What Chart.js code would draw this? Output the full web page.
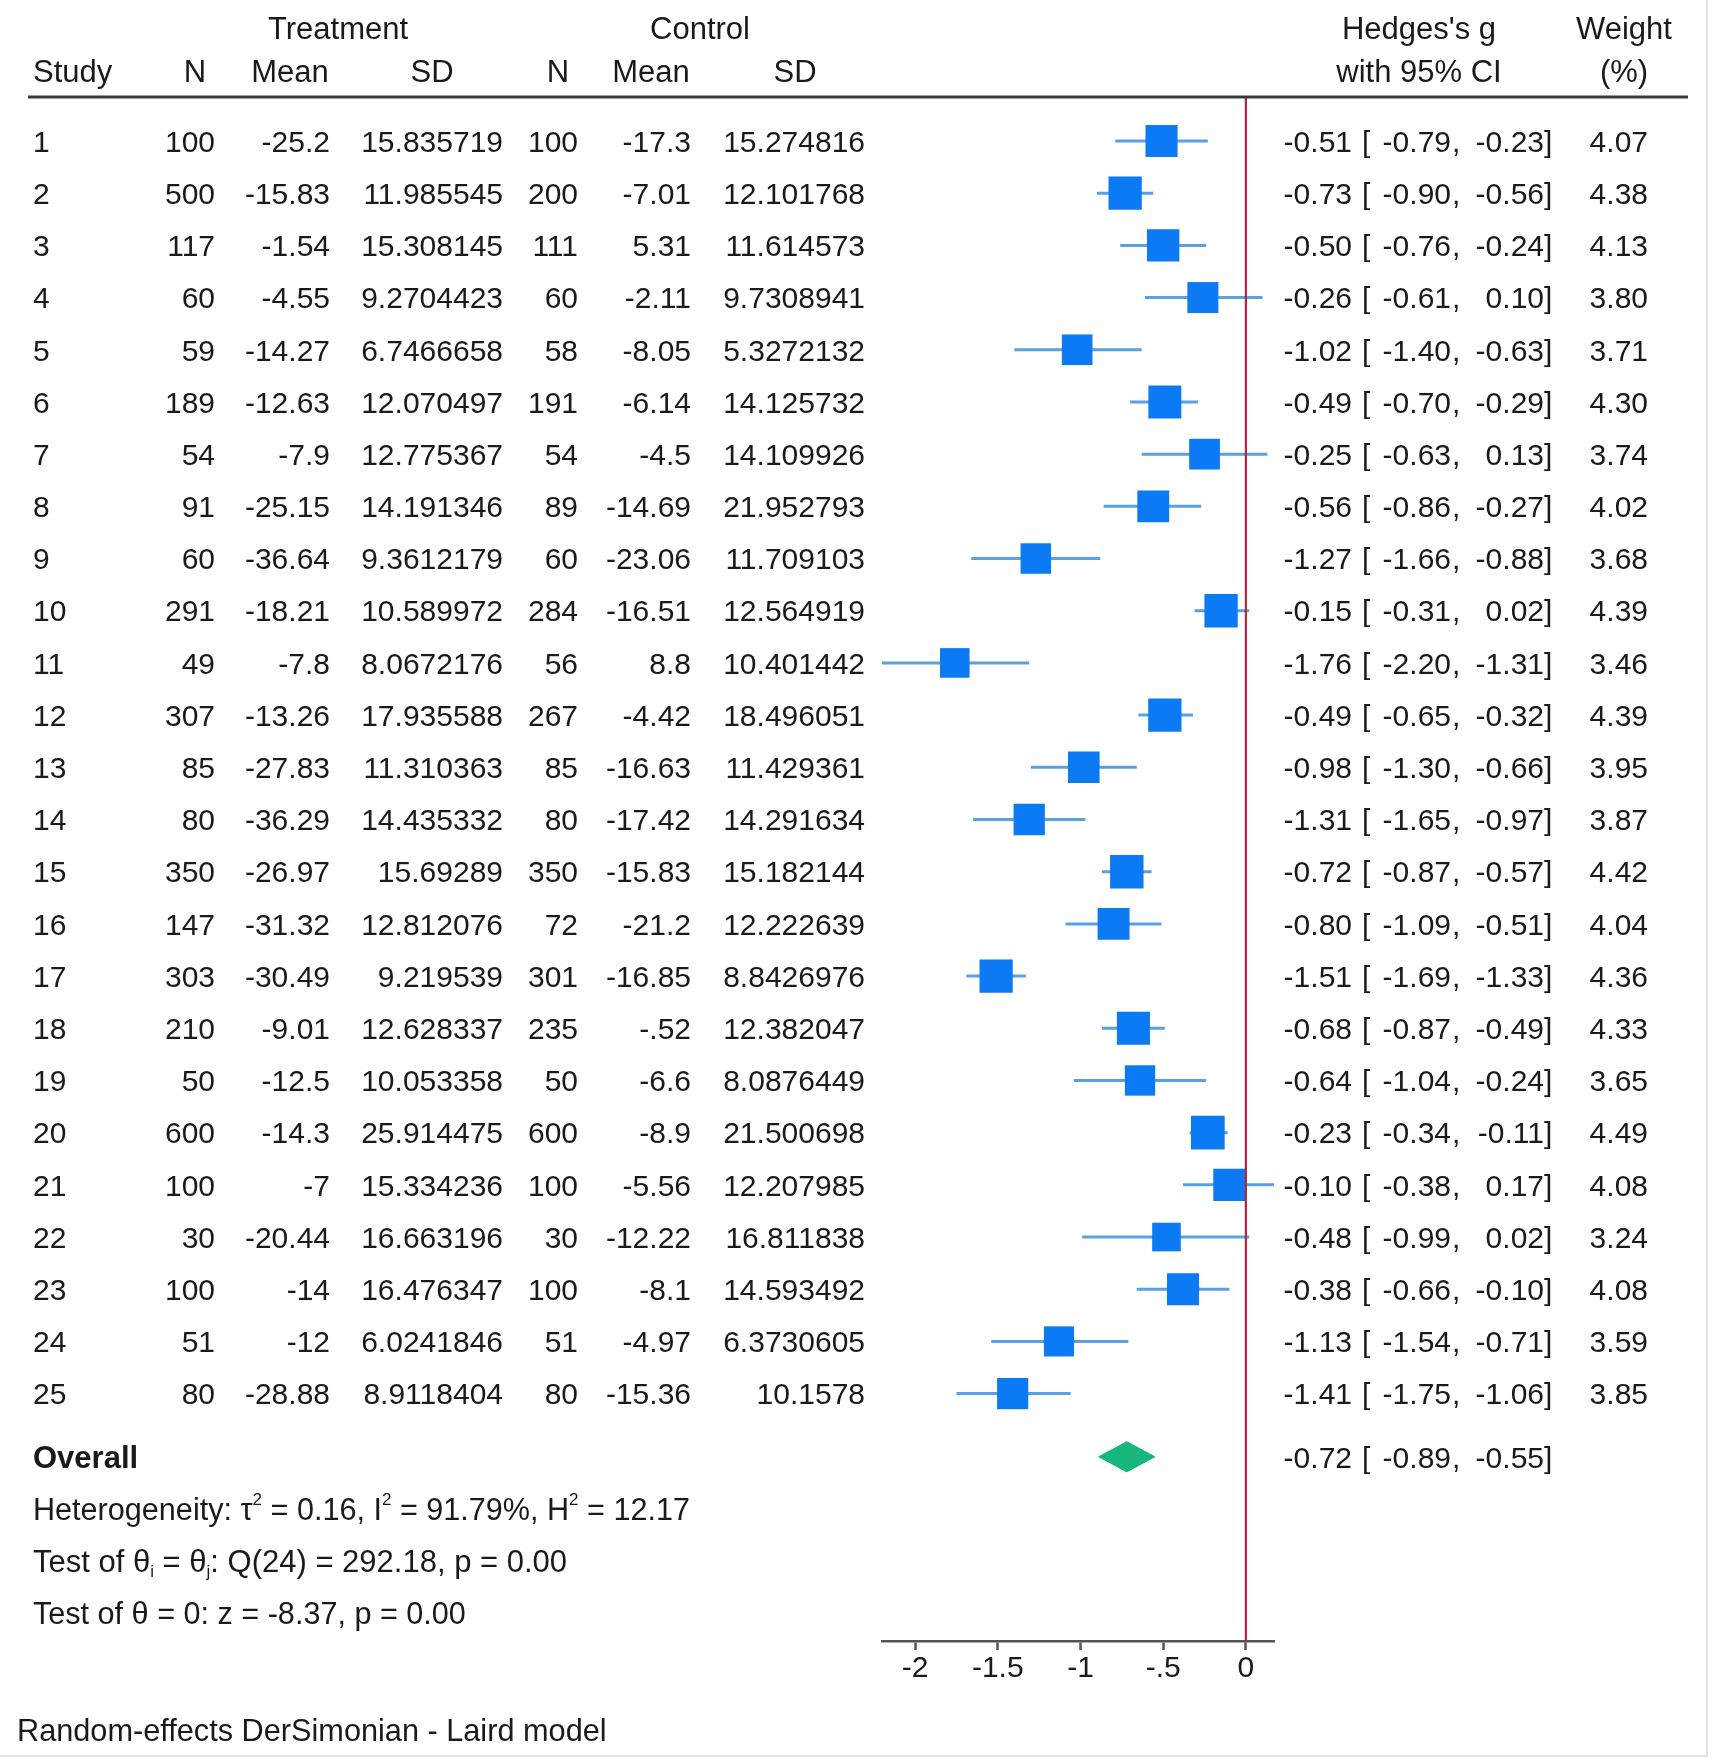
<!DOCTYPE html>
<html>
<head>
<meta charset="utf-8">
<script src="https://cdn.jsdelivr.net/npm/chart.js@4.4.1/dist/chart.umd.min.js"></script>
<style>
html,body{margin:0;padding:0;background:#fff;}
#wrap{width:1713px;height:1763px;position:relative;overflow:hidden;}
canvas{display:block;}
</style>
</head>
<body>
<div id="wrap"><canvas id="c" width="1713" height="1763"></canvas></div>
<script>
// ---------------- data ----------------
const studies = ['1','2','3','4','5','6','7','8','9','10','11','12','13','14','15','16','17','18','19','20','21','22','23','24','25'];
const treatN    = [100,500,117,60,59,189,54,91,60,291,49,307,85,80,350,147,303,210,50,600,100,30,100,51,80];
const treatMean = [-25.2,-15.83,-1.54,-4.55,-14.27,-12.63,-7.9,-25.15,-36.64,-18.21,-7.8,-13.26,-27.83,-36.29,-26.97,-31.32,-30.49,-9.01,-12.5,-14.3,-7,-20.44,-14,-12,-28.88];
const treatSD   = [15.835719,11.985545,15.308145,9.2704423,6.7466658,12.070497,12.775367,14.191346,9.3612179,10.589972,8.0672176,17.935588,11.310363,14.435332,15.69289,12.812076,9.219539,12.628337,10.053358,25.914475,15.334236,16.663196,16.476347,6.0241846,8.9118404];
const ctrlN     = [100,200,111,60,58,191,54,89,60,284,56,267,85,80,350,72,301,235,50,600,100,30,100,51,80];
const ctrlMean  = [-17.3,-7.01,5.31,-2.11,-8.05,-6.14,-4.5,-14.69,-23.06,-16.51,8.8,-4.42,-16.63,-17.42,-15.83,-21.2,-16.85,-0.52,-6.6,-8.9,-5.56,-12.22,-8.1,-4.97,-15.36];
const ctrlSD    = [15.274816,12.101768,11.614573,9.7308941,5.3272132,14.125732,14.109926,21.952793,11.709103,12.564919,10.401442,18.496051,11.429361,14.291634,15.182144,12.222639,8.8426976,12.382047,8.0876449,21.500698,12.207985,16.811838,14.593492,6.3730605,10.1578];
const hedgesG   = [-0.51,-0.73,-0.50,-0.26,-1.02,-0.49,-0.25,-0.56,-1.27,-0.15,-1.76,-0.49,-0.98,-1.31,-0.72,-0.80,-1.51,-0.68,-0.64,-0.23,-0.10,-0.48,-0.38,-1.13,-1.41];
const ciLow     = [-0.79,-0.90,-0.76,-0.61,-1.40,-0.70,-0.63,-0.86,-1.66,-0.31,-2.20,-0.65,-1.30,-1.65,-0.87,-1.09,-1.69,-0.87,-1.04,-0.34,-0.38,-0.99,-0.66,-1.54,-1.75];
const ciHigh    = [-0.23,-0.56,-0.24,0.10,-0.63,-0.29,0.13,-0.27,-0.88,0.02,-1.31,-0.32,-0.66,-0.97,-0.57,-0.51,-1.33,-0.49,-0.24,-0.11,0.17,0.02,-0.10,-0.71,-1.06];
const weightPct = [4.07,4.38,4.13,3.80,3.71,4.30,3.74,4.02,3.68,4.39,3.46,4.39,3.95,3.87,4.42,4.04,4.36,4.33,3.65,4.49,4.08,3.24,4.08,3.59,3.85];
const overallG  = [-0.72];
const overallCI = [-0.89, -0.55];
const xTickValues = [-2, -1.5, -1, -0.5, 0];
const xTickLabels = ['-2', '-1.5', '-1', '-.5', '0'];
const headerTop = ['Treatment', 'Control', "Hedges's g", 'Weight'];
const headerBottom = ['Study', 'N', 'Mean', 'SD', 'N', 'Mean', 'SD', 'with 95% CI', '(%)'];
const footnote = 'Random-effects DerSimonian - Laird model';

// ---------------- layout constants ----------------
const FONT = '"Liberation Sans", Arial, Helvetica, sans-serif';
const F30 = '30px ' + FONT;
const F31 = '31px ' + FONT;
const F305 = '30.6px ' + FONT;
const F31B = 'bold 31px ' + FONT;
const F17 = '17px ' + FONT;
const TEXT = '#1a1a1a';
const ROW_OVERALL = 26.21;
const ROW_STATS = [27.21, 28.21, 29.21];
const HDR1 = -1.16, HDR2 = -0.34;
const TY = 2.5; // text vertical nudge

function fmtNum(v) { return String(v).replace(/^(-?)0\./, '$1.'); }

// ---------------- datasets ----------------
const ciData = [];
studies.forEach((s, i) => {
  ciData.push({x: ciLow[i], y: i + 1});
  ciData.push({x: ciHigh[i], y: i + 1});
  ciData.push({x: null, y: null});
});
const boxData = studies.map((s, i) => ({x: hedgesG[i], y: i + 1}));
const dH = 0.29;
const diamondData = [
  {x: overallCI[0], y: ROW_OVERALL},
  {x: overallG[0], y: ROW_OVERALL - dH},
  {x: overallCI[1], y: ROW_OVERALL},
  {x: overallG[0], y: ROW_OVERALL + dH},
  {x: overallCI[0], y: ROW_OVERALL}
];

function drawRich(ctx, x, y, parts, mainFont) {
  let cx = x;
  ctx.textAlign = 'left';
  for (const p of parts) {
    if (p.sup) { ctx.font = F17; ctx.fillText(p.t, cx, y - 11); cx += ctx.measureText(p.t).width; }
    else if (p.sub) { ctx.font = F17; ctx.fillText(p.t, cx, y + 9); cx += ctx.measureText(p.t).width; }
    else { ctx.font = mainFont; ctx.fillText(p.t, cx, y); cx += ctx.measureText(p.t).width; }
  }
}

const refLinePlugin = {
  id: 'refLine',
  afterDatasetsDraw(chart) {
    const {ctx, chartArea, scales: {x}} = chart;
    const px = x.getPixelForValue(0);
    ctx.save();
    ctx.strokeStyle = '#b0263a';
    ctx.lineWidth = 2.2;
    ctx.beginPath();
    ctx.moveTo(px, chartArea.top);
    ctx.lineTo(px, chartArea.bottom);
    ctx.stroke();
    ctx.restore();
  }
};

const tablePlugin = {
  id: 'table',
  afterDraw(chart) {
    const {ctx, scales: {y}} = chart;
    const H = chart.height;
    ctx.save();
    ctx.fillStyle = TEXT;
    ctx.textBaseline = 'middle';
    ctx.font = F31;
    // header
    const h1 = y.getPixelForValue(HDR1) + TY, h2 = y.getPixelForValue(HDR2) + TY;
    ctx.textAlign = 'center';
    ctx.fillText(headerTop[0], 338, h1);
    ctx.fillText(headerTop[1], 700, h1);
    ctx.fillText(headerTop[2], 1419, h1);
    ctx.fillText(headerTop[3], 1624, h1);
    ctx.textAlign = 'left';
    ctx.fillText(headerBottom[0], 33, h2);
    ctx.textAlign = 'center';
    const hx = [195, 290, 432, 558, 651, 795, 1419, 1624];
    for (let k = 1; k < headerBottom.length; k++) ctx.fillText(headerBottom[k], hx[k - 1], h2);
    // header rule
    ctx.strokeStyle = '#3a3a3a';
    ctx.lineWidth = 3;
    ctx.beginPath();
    ctx.moveTo(28, chart.chartArea.top);
    ctx.lineTo(1688, chart.chartArea.top);
    ctx.stroke();

    const ciText = (py, gv, lo, hi) => {
      ctx.textAlign = 'right'; ctx.fillText(gv.toFixed(2), 1352, py);
      ctx.textAlign = 'left'; ctx.fillText('[', 1362, py);
      ctx.textAlign = 'right'; ctx.fillText(lo.toFixed(2), 1451, py);
      ctx.textAlign = 'left'; ctx.fillText(',', 1452, py);
      ctx.textAlign = 'right'; ctx.fillText(hi.toFixed(2), 1544, py);
      ctx.textAlign = 'left'; ctx.fillText(']', 1544, py);
    };
    // rows
    ctx.font = F30;
    studies.forEach((s, i) => {
      const py = y.getPixelForValue(i + 1) + TY;
      ctx.textAlign = 'left'; ctx.fillText(s, 33, py);
      ctx.textAlign = 'right';
      ctx.fillText(fmtNum(treatN[i]), 215, py);
      ctx.fillText(fmtNum(treatMean[i]), 330, py);
      ctx.fillText(fmtNum(treatSD[i]), 503, py);
      ctx.fillText(fmtNum(ctrlN[i]), 578, py);
      ctx.fillText(fmtNum(ctrlMean[i]), 691, py);
      ctx.fillText(fmtNum(ctrlSD[i]), 865, py);
      ciText(py, hedgesG[i], ciLow[i], ciHigh[i]);
      ctx.textAlign = 'right'; ctx.fillText(weightPct[i].toFixed(2), 1648, py);
    });
    // overall
    const po = y.getPixelForValue(ROW_OVERALL) + TY;
    ctx.font = F31B; ctx.textAlign = 'left'; ctx.fillText('Overall', 33, po);
    ctx.font = F30;
    ciText(po, overallG[0], overallCI[0], overallCI[1]);
    // stats
    drawRich(ctx, 33, y.getPixelForValue(ROW_STATS[0]) + TY, [
      {t: 'Heterogeneity: \u03C4'}, {t: '2', sup: true}, {t: ' = 0.16, I'}, {t: '2', sup: true},
      {t: ' = 91.79%, H'}, {t: '2', sup: true}, {t: ' = 12.17'}
    ], F305);
    drawRich(ctx, 33, y.getPixelForValue(ROW_STATS[1]) + TY, [
      {t: 'Test of \u03B8'}, {t: 'i', sub: true}, {t: ' = \u03B8'}, {t: 'j', sub: true}, {t: ': Q(24) = 292.18, p = 0.00'}
    ], F31);
    drawRich(ctx, 33, y.getPixelForValue(ROW_STATS[2]) + TY, [
      {t: 'Test of \u03B8 = 0: z = -8.37, p = 0.00'}
    ], F305);
    // footnote
    ctx.font = '30.7px ' + FONT; ctx.textAlign = 'left';
    ctx.fillText(footnote, 17, H - 30);
    // faint frame
    ctx.strokeStyle = '#e2e2e2';
    ctx.lineWidth = 2;
    ctx.beginPath();
    ctx.moveTo(1707, 0); ctx.lineTo(1707, 1756); ctx.lineTo(0, 1756);
    ctx.stroke();
    ctx.restore();
  }
};

new Chart(document.getElementById('c'), {
  type: 'scatter',
  data: {
    datasets: [
      {label: 'CI', data: ciData, showLine: true, spanGaps: false, borderColor: '#5aa0e4', borderWidth: 3,
       pointRadius: 0, pointHoverRadius: 0, fill: false, order: 4},
      {label: 'Study', data: boxData, pointStyle: 'rect', backgroundColor: '#0b7af4', borderWidth: 0,
       pointBorderWidth: 0,
       pointRadius: (c) => 15.9 * Math.sqrt(weightPct[c.dataIndex] || 4) / Math.SQRT2, order: 3},
      {label: 'Overall', data: diamondData, showLine: true, fill: 'shape', backgroundColor: '#17b67c',
       borderColor: '#17b67c', borderWidth: 1, pointRadius: 0, order: 2}
    ]
  },
  options: {
    responsive: false,
    devicePixelRatio: 1,
    animation: false,
    events: [],
    layout: {padding: {left: 882, right: 439, top: 97, bottom: 62}},
    plugins: {legend: {display: false}, tooltip: {enabled: false}},
    scales: {
      x: {
        type: 'linear', min: -2.2, max: 0.17,
        afterBuildTicks: (s) => { s.ticks = xTickValues.map(v => ({value: v})); },
        afterFit: (s) => { s.height = 60; },
        ticks: {callback: (v, i) => xTickLabels[i], color: TEXT, padding: 1, maxRotation: 0,
                font: {family: FONT, size: 30}},
        grid: {display: true, drawOnChartArea: false, drawTicks: true, tickLength: 9, tickColor: '#555', tickWidth: 2.5},
        border: {display: true, color: '#555', width: 2.5}
      },
      y: {type: 'linear', min: 0.157, max: 29.74, reverse: true, display: false}
    }
  },
  plugins: [refLinePlugin, tablePlugin]
});
</script>
</body>
</html>
